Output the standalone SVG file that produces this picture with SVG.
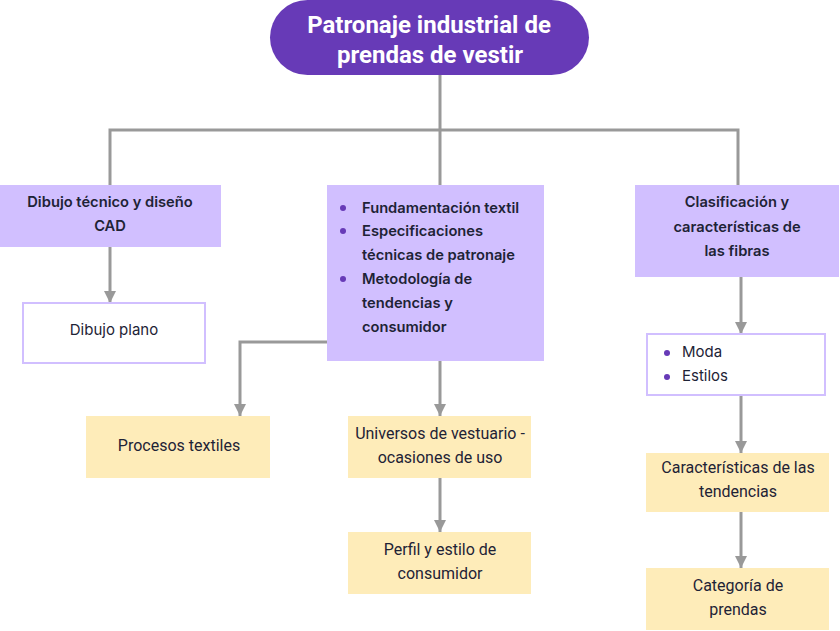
<svg xmlns="http://www.w3.org/2000/svg" width="840" height="631" viewBox="0 0 840 631">
<defs>
<marker id="arr" viewBox="0 0 10 10" refX="10" refY="5" markerWidth="4" markerHeight="4" orient="auto" markerUnits="strokeWidth">
<path d="M0,0 L10,5 L0,10 z" fill="#999999"/>
</marker>
<style>
.con{fill:none;stroke:#999999;stroke-width:3}
.lav{fill:#d1bfff}
.wht{fill:#ffffff;stroke:#d1bfff;stroke-width:2}
.yel{fill:#feecb9}
.tb{font-family:Inter,"Noto Sans",sans-serif;font-weight:600;font-size:14.7px;fill:#1e2336}
.tn{font-family:Inter,"Noto Sans",sans-serif;font-size:15px;fill:#1e2336}
.tr{font-family:Roboto,"Noto Sans",sans-serif;font-size:16px;fill:#1e2336}
.title{font-family:Roboto,"Noto Sans",sans-serif;font-weight:700;font-size:24px;fill:#ffffff}
.bul{fill:#673ab7}
</style>
</defs>
<rect width="840" height="631" fill="#ffffff"/>
<g id="connectors">
<path class="con" d="M440,75 V130 M110,185 V130 H738 V185 M440,130 V185"/>
<path class="con" d="M110,247 V303" marker-end="url(#arr)"/>
<path class="con" d="M440,361 V416" marker-end="url(#arr)"/>
<path class="con" d="M327,342 H240 V416" marker-end="url(#arr)"/>
<path class="con" d="M440,478 V532" marker-end="url(#arr)"/>
<path class="con" d="M741,277 V334" marker-end="url(#arr)"/>
<path class="con" d="M741,395 V453" marker-end="url(#arr)"/>
<path class="con" d="M741,512 V568" marker-end="url(#arr)"/>
</g>
<g id="title">
<rect x="270" y="0" width="319" height="75" rx="37.5" fill="#673ab7"/>
<text class="title" text-anchor="middle"><tspan x="429" y="33">Patronaje industrial de</tspan><tspan x="430" y="63">prendas de vestir</tspan></text>
</g>
<g id="n-dibujo-tecnico">
<rect class="lav" x="0" y="185" width="221" height="62"/>
<text class="tb" text-anchor="middle"><tspan x="110" y="207">Dibujo técnico y diseño</tspan><tspan x="110" y="231">CAD</tspan></text>
</g>
<g id="n-dibujo-plano">
<rect class="wht" x="23" y="303" width="182" height="60"/>
<text class="tn" text-anchor="middle" x="114" y="335">Dibujo plano</text>
</g>
<g id="n-fundamentacion">
<rect class="lav" x="327" y="185" width="217" height="176"/>
<circle class="bul" cx="343" cy="208" r="3"/>
<circle class="bul" cx="343" cy="231" r="3"/>
<circle class="bul" cx="343" cy="279" r="3"/>
<text class="tb"><tspan x="362" y="213">Fundamentación textil</tspan><tspan x="362" y="236">Especificaciones</tspan><tspan x="362" y="260">técnicas de patronaje</tspan><tspan x="362" y="284">Metodología de</tspan><tspan x="362" y="308">tendencias y</tspan><tspan x="362" y="332">consumidor</tspan></text>
</g>
<g id="n-procesos">
<rect class="yel" x="86" y="416" width="184" height="62"/>
<text class="tr" text-anchor="middle" x="179" y="451">Procesos textiles</text>
</g>
<g id="n-universos">
<rect class="yel" x="348" y="416" width="183" height="62"/>
<text class="tr" text-anchor="middle"><tspan x="440" y="439">Universos de vestuario -</tspan><tspan x="440" y="463">ocasiones de uso</tspan></text>
</g>
<g id="n-perfil">
<rect class="yel" x="348" y="532" width="183" height="62"/>
<text class="tr" text-anchor="middle"><tspan x="440" y="555">Perfil y estilo de</tspan><tspan x="440" y="579">consumidor</tspan></text>
</g>
<g id="n-clasificacion">
<rect class="lav" x="635" y="185" width="204" height="92"/>
<text class="tb" text-anchor="middle"><tspan x="737" y="207">Clasificación y</tspan><tspan x="737" y="232">características de</tspan><tspan x="737" y="256">las fibras</tspan></text>
</g>
<g id="n-moda">
<rect class="wht" x="647" y="334" width="178" height="61"/>
<circle class="bul" cx="667" cy="353" r="3"/>
<circle class="bul" cx="667" cy="377" r="3"/>
<text class="tn"><tspan x="682" y="357">Moda</tspan><tspan x="682" y="381">Estilos</tspan></text>
</g>
<g id="n-caracteristicas">
<rect class="yel" x="646" y="453" width="183" height="59"/>
<text class="tr" text-anchor="middle"><tspan x="738" y="473">Características de las</tspan><tspan x="738" y="497">tendencias</tspan></text>
</g>
<g id="n-categoria">
<rect class="yel" x="646" y="568" width="183" height="62"/>
<text class="tr" text-anchor="middle"><tspan x="738" y="591">Categoría de</tspan><tspan x="738" y="615">prendas</tspan></text>
</g>
</svg>
